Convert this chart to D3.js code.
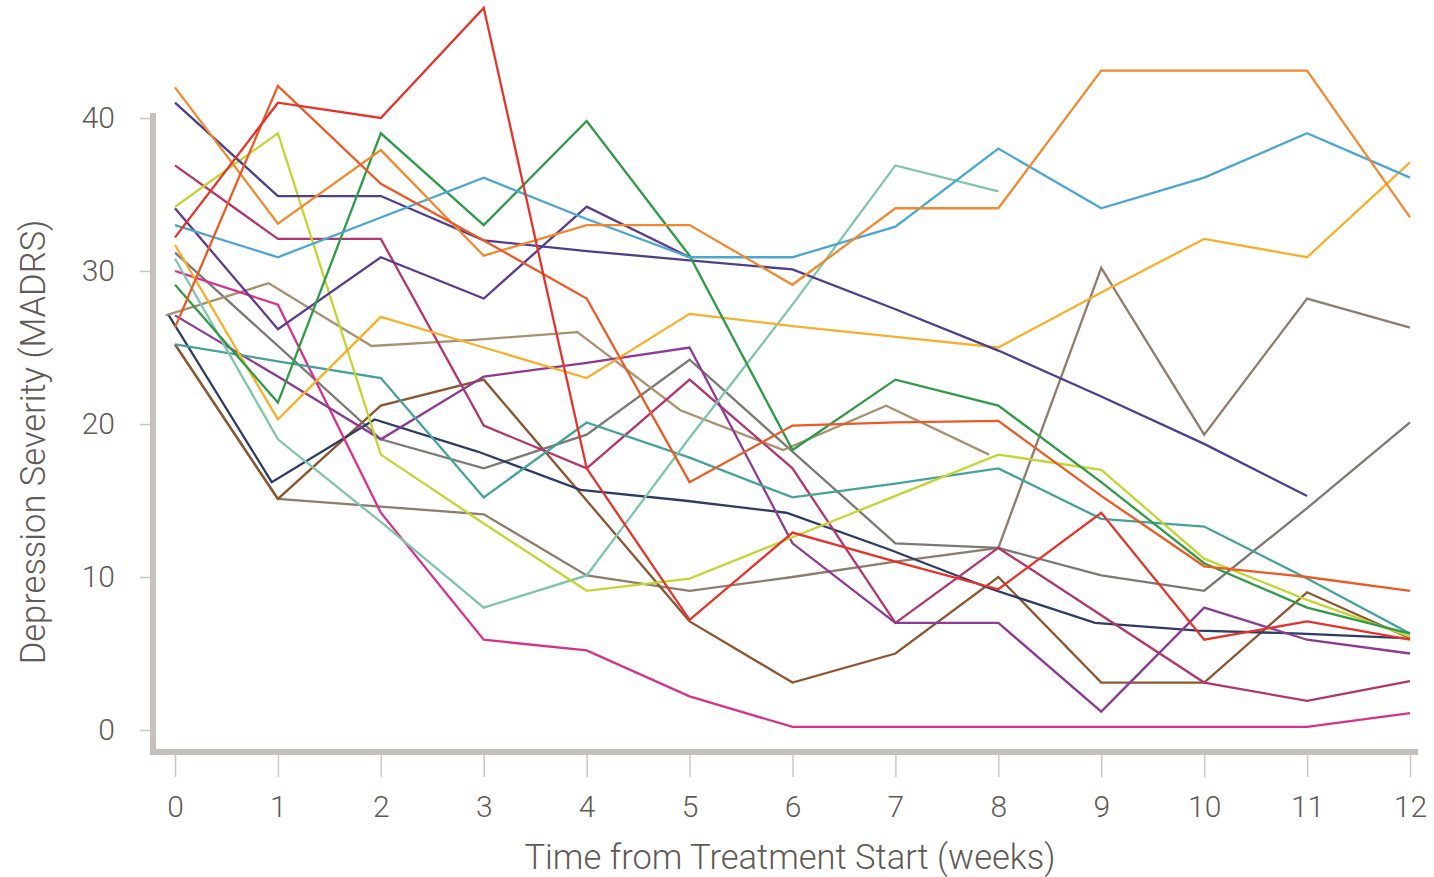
<!DOCTYPE html>
<html>
<head>
<meta charset="utf-8">
<script src="https://cdn.jsdelivr.net/npm/d3@7"></script>
<style>
  body { margin: 0; background: #fff; }
  svg text { font-family: Roboto, "Liberation Sans", sans-serif; font-weight: 300; fill: #5f5a55; }
</style>
</head>
<body>
<div id="chart"></div>
<script>
// weeks since treatment start
var weeks = [0, 1, 2, 3, 4, 5, 6, 7, 8, 9, 10, 11, 12];
var yTicks = [0, 10, 20, 30, 40];

// MADRS score per patient, one value per week (null = no visit)
var red       = [32.2, 41, 40, 47.2, 17.1, 7.2, 12.9, 11, 9.2, 14.2, 5.9, 7.1, 5.9];
var vermilion = [26.3, 42.1, 35.7, 32, 28.2, 16.2, 19.9, 20.1, 20.2, 15.3, 10.7, 10, 9.1];
var orange    = [42, 33.1, 37.9, 31, 33, 33, 29.1, 34.1, 34.1, 43.1, 43.1, 43.1, 33.5];
var gold      = [31.7, 20.3, 27, 25, 23, 27.2, 26.4, 25.7, 25, 28.6, 32.1, 30.9, 37.1];
var lime      = [34.2, 39, 18, 13.5, 9.1, 9.9, 12.6, 15.3, 18, 17, 11.2, 8.5, 6.1];
var green     = [29.1, 21.4, 39, 33, 39.8, 31, 18.3, 22.9, 21.2, 16.2, 10.9, 8, 6.3];
var mint      = [30.8, 19, 13.6, 8, 10.1, 19.1, 27.8, 36.9, 35.2, null, null, null, null];
var teal      = [25.2, 24.1, 23, 15.2, 20.1, 17.8, 15.2, 16.1, 17.1, 13.8, 13.3, 9.9, 6.3];
var blue      = [33, 30.9, 33.5, 36.1, 33.4, 30.9, 30.9, 32.9, 38, 34.1, 36.1, 39, 36.1];
var indigo    = [41, 34.9, 34.9, 32, 31.3, 30.7, 30.1, 27.5, 24.8, 21.8, 18.7, 15.3, null];
var purple    = [34.1, 26.2, 30.9, 28.2, 34.2, 30.9, null, null, null, null, null, null, null];
var navy      = [27.1, 16.2, 20.3, 18.2, 15.7, 15, 14.2, 11.8, 9.2, 7, 6.5, 6.3, 6];
var violet    = [27.1, 23.1, 19, 23.1, 24, 25, 12.2, 7, 7, 1.2, 8, 5.9, 5];
var raspberry = [36.9, 32.1, 32.1, 19.9, 17.1, 22.9, 17.1, 7, 11.9, 7.5, 3.1, 1.9, 3.2];
var pink      = [30, 27.8, 14.2, 5.9, 5.2, 2.2, 0.2, 0.2, 0.2, 0.2, 0.2, 0.2, 1.1];
var brown     = [25.2, 15.1, 21.2, 22.9, 15, 7.1, 3.1, 5, 10, 3.1, 3.1, 9, 6];
var tan       = [27.1, 29.2, 25.1, 25.5, 26, 20.9, 18.3, 21.2, 18, null, null, null, null];
var taupe     = [25.2, 15.1, 14.6, 14.1, 10.1, 9.1, 10, 11, 11.9, 30.2, 19.3, 28.2, 26.3];
var grey      = [31.2, 25.1, 19, 17.1, 19.3, 24.2, 18.2, 12.2, 11.9, 10.1, 9.1, 14.5, 20.1];

var patients = [
  {values: taupe,     color: "#8f7d6c"},
  {values: brown,     color: "#8b5630"},
  {values: grey,      color: "#7c7873"},
  {values: tan,       color: "#a8916f", shift: -0.09},
  {values: navy,      color: "#2d3c63", shift: -0.06},
  {values: pink,      color: "#d8318a"},
  {values: raspberry, color: "#b1366f"},
  {values: violet,    color: "#8c3a93"},
  {values: teal,      color: "#45a19b"},
  {values: mint,      color: "#7fc4ab"},
  {values: lime,      color: "#c4d432"},
  {values: gold,      color: "#f5b02c"},
  {values: purple,    color: "#5e3a8c"},
  {values: indigo,    color: "#4f3e8b"},
  {values: green,     color: "#2f9a48"},
  {values: blue,      color: "#4ba6d0"},
  {values: orange,    color: "#f08930"},
  {values: vermilion, color: "#eb5a25"},
  {values: red,       color: "#e4332b"}
];

var width = 1434, height = 877;

var svg = d3.select("#chart")
  .append("svg")
    .attr("width", width)
    .attr("height", height);

var x = d3.scaleLinear()
  .domain([0, 12])
  .range([175, 1410]);

var y = d3.scaleLinear()
  .domain([0, 40])
  .range([730, 118]);

// axes (ticks + labels)
var yAxis = svg.append("g")
  .attr("transform", "translate(153,0)")
  .call(d3.axisLeft(y).tickValues(yTicks).tickSize(13).tickPadding(25));

var xAxis = svg.append("g")
  .attr("transform", "translate(0,755)")
  .call(d3.axisBottom(x).tickValues(weeks).tickSize(22).tickPadding(19));

[yAxis, xAxis].forEach(function(g) {
  g.select(".domain").remove();
  g.selectAll(".tick line").attr("stroke", "#ccc7c2").attr("stroke-width", 1.5);
  g.selectAll(".tick text")
    .style("font-size", "30px")
    .style("font-family", "Roboto, 'Liberation Sans', sans-serif")
    .style("font-weight", 300)
    .attr("fill", "#5f5a55");
});

// thick grey axis frame
svg.append("path")
  .attr("d", "M153,113 V752 H1418")
  .attr("fill", "none")
  .attr("stroke", "#c5c0bb")
  .attr("stroke-width", 6);

var line = d3.line()
  .defined(function(d) { return d.v != null; })
  .x(function(d) { return x(d.w); })
  .y(function(d) { return y(d.v); });

svg.append("g")
  .selectAll("path")
  .data(patients)
  .enter()
  .append("path")
    .attr("fill", "none")
    .attr("stroke", function(d) { return d.color; })
    .attr("stroke-width", 2.3)
    .attr("stroke-linejoin", "miter")
    .attr("d", function(d) {
      var s = d.shift || 0;
      return line(d.values.map(function(v, i) { return {w: weeks[i] + s, v: v}; }));
    });

// axis titles
svg.append("text")
  .attr("text-anchor", "middle")
  .attr("x", 790)
  .attr("y", 869)
  .style("font-size", "34.5px")
  .text("Time from Treatment Start (weeks)");

svg.append("text")
  .attr("text-anchor", "middle")
  .attr("transform", "translate(45,442) rotate(-90)")
  .style("font-size", "34.5px")
  .text("Depression Severity (MADRS)");
</script>
</body>
</html>
